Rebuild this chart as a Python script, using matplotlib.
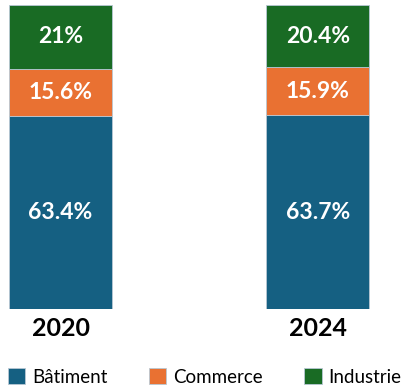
import matplotlib
matplotlib.use('Agg')
import matplotlib.pyplot as plt
import numpy as np

plt.rcParams['font.family'] = ['Lato', 'DejaVu Sans']

years = ['2020', '2024']
series = ['Bâtiment', 'Commerce', 'Industrie']
batiment = [63.4, 63.7]
commerce = [15.6, 15.9]
industrie = [21, 20.4]
labels = [['63.4%', '63.7%'], ['15.6%', '15.9%'], ['21%', '20.4%']]
colors = ['#156082', '#E97132', '#196B24']

fig = plt.figure(figsize=(4.06, 3.91), dpi=100)
ax = fig.add_axes([0, 0.2097, 1, 0.7775])

x = np.arange(len(years))
width = 0.4
bottom = np.zeros(len(years))
for name, vals, col, labs in zip(series, [batiment, commerce, industrie], colors, labels):
    vals = np.array(vals, dtype=float)
    ax.bar(x, vals, width, bottom=bottom, color=col, label=name,
           edgecolor='#b8c8d4', linewidth=0.6)
    for xi, b, v, t in zip(x, bottom, vals, labs):
        ax.text(xi, b + v / 2, t, ha='center', va='center', color='white',
                fontsize=16.5, fontweight='bold')
    bottom += vals

ax.set_xlim(-0.235, 1.342)
ax.set_ylim(0, 100)
ax.set_xticks(x)
ax.set_xticklabels(years, fontsize=18, fontweight='bold')
ax.tick_params(axis='x', length=0, pad=6)
ax.set_yticks([])
for s in ax.spines.values():
    s.set_visible(False)

fig.legend(loc='lower left', bbox_to_anchor=(0.0, -0.006), ncol=3, frameon=False,
           fontsize=13.5, handlelength=0.95, handleheight=0.95, handletextpad=0.35,
           columnspacing=2.2, borderaxespad=0)

fig.savefig('out.png', dpi=100)
